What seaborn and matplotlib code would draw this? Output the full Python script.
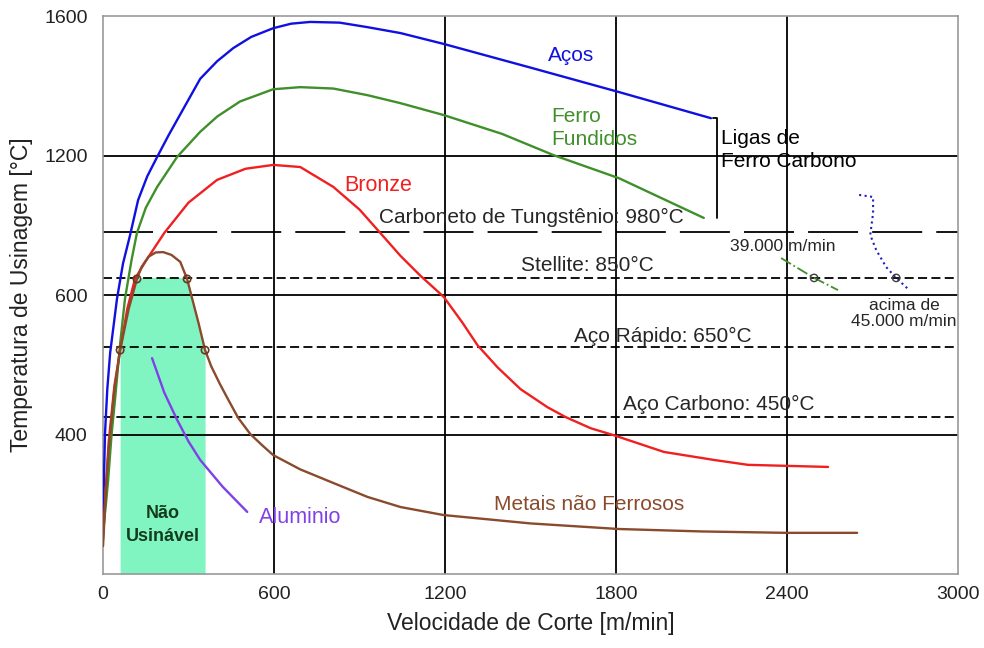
import matplotlib
matplotlib.use("Agg")
import matplotlib.pyplot as plt
import seaborn as sns

# curves: cutting speed [m/min] vs temperature [C]
acos_v = [0, 4, 7, 15, 25, 49, 70, 95, 123, 155, 190, 230, 271, 341, 400, 457, 520, 597, 660, 727, 830, 928,
          1044, 1195, 1500, 1810, 2133]
acos_t = [150, 300, 404, 530, 634, 789, 890, 972, 1072, 1140, 1196, 1258, 1318, 1420, 1470, 1508, 1540, 1565,
          1578, 1583, 1581, 1568, 1551, 1520, 1452, 1382, 1307]

ferro_v = [0, 10, 18, 30, 42, 60, 77, 100, 119, 150, 190, 260, 341, 401, 481, 597, 692, 808, 928, 1044,
           1195, 1400, 1581, 1810, 2108]
ferro_t = [120, 200, 270, 400, 499, 660, 789, 900, 978, 1050, 1110, 1196, 1268, 1312, 1355, 1390, 1396, 1392,
           1373, 1350, 1316, 1262, 1201, 1135, 1021]

bronze_v = [0, 10, 20, 40, 60, 85, 112, 148, 215, 300, 400, 500, 597, 692, 808, 900, 976, 1044, 1114,
            1195, 1260, 1314, 1385, 1465, 1560, 1623, 1711, 1792, 1968, 2144, 2263, 2544]
bronze_t = [100, 250, 380, 540, 642, 760, 846, 895, 978, 1065, 1130, 1162, 1173, 1167, 1110, 1045, 975,
            912, 855, 795, 722, 656, 592, 530, 478, 450, 418, 398, 350, 327, 313, 307]

naofe_v = [0, 10, 20, 40, 60, 90, 119, 135, 160, 185, 211, 240, 271, 295, 313, 335, 358, 380, 410, 436, 474,
           517, 560, 597, 692, 808, 928, 1044, 1195, 1500, 1810, 2100, 2400, 2646]
naofe_t = [80, 240, 360, 530, 642, 760, 846, 880, 910, 922, 923, 915, 895, 846, 789, 720, 642, 595, 545, 505,
           448, 401, 368, 341, 300, 261, 221, 192, 169, 145, 129, 122, 118, 118]

alu_v = [172, 215, 260, 300, 341, 420, 506]
alu_t = [619, 520, 442, 380, 327, 250, 178]

# unmachinable band and intersection markers
band_v = [60, 90, 119, 135, 160, 185, 211, 240, 271, 295, 313, 335, 358]
band_t = [642, 760, 846, 850, 850, 850, 850, 850, 850, 846, 789, 720, 642]
mark_v = [60, 119, 295, 358]
mark_t = [642, 846, 846, 642]

# tool limits
lim_t = [980, 850, 650, 450]
lim_lbl = ["Carboneto de Tungstênio: 980°C", "Stellite: 850°C", "Aço Rápido: 650°C", "Aço Carbono: 450°C"]

# extra high-speed points
v39_v = [2379, 2495, 2579]
v39_t = [906, 849, 814]
v45_v = [2653, 2702, 2702, 2692, 2713, 2748, 2783, 2829]
v45_t = [1087, 1081, 1035, 972, 929, 880, 849, 814]

x_ticks = [0, 600, 1200, 1800, 2400, 3000]
y_ticks = [400, 800, 1200, 1600]
y_tick_lbl = ["400", "600", "1200", "1600"]

sns.set_style("white")
plt.rcParams['font.family'] = ['Liberation Sans', 'DejaVu Sans']

fig = plt.figure(figsize=(9.84, 6.48), dpi=100)
ax = fig.add_axes([0.1047, 0.1142, 0.8689, 0.8611])

# green "Não Usinável" band
ax.fill_between(band_v, 0, band_t, color="#80f5c2", lw=0, zorder=1)

# grid
for g in [600, 1200, 1800, 2400]:
    ax.axvline(g, color="black", lw=1.3, zorder=2)
for g in [400, 800, 1200]:
    ax.axhline(g, color="black", lw=1.3, zorder=2)

# limit lines
ax.axhline(lim_t[0], color="black", lw=1.3, ls=(0, (27.7, 7.8)), zorder=2)
for t in lim_t[1:]:
    ax.axhline(t, color="black", lw=1.3, ls=(0, (5, 2.4)), zorder=2)

lw = 1.7
sns.lineplot(x=acos_v, y=acos_t, sort=False, estimator=None, color="#1010e0", lw=lw, ax=ax, zorder=3)
sns.lineplot(x=ferro_v, y=ferro_t, sort=False, estimator=None, color="#3f8f2a", lw=lw, ax=ax, zorder=3)
sns.lineplot(x=bronze_v, y=bronze_t, sort=False, estimator=None, color="#f02020", lw=lw, ax=ax, zorder=3)
sns.lineplot(x=naofe_v, y=naofe_t, sort=False, estimator=None, color="#8a4a2c", lw=lw, ax=ax, zorder=4)
sns.lineplot(x=alu_v, y=alu_t, sort=False, estimator=None, color="#8040e8", lw=lw, ax=ax, zorder=3)
sns.lineplot(x=v39_v, y=v39_t, sort=False, estimator=None, color="#3f8f2a", lw=1.3, ls="-.", ax=ax, zorder=3)
sns.lineplot(x=v45_v, y=v45_t, sort=False, estimator=None, color="#2020c0", lw=1.5, ls=":", ax=ax, zorder=3)

ax.scatter(mark_v, mark_t, s=28, facecolors="none", edgecolors="#6a3a20", lw=1.2, zorder=5)
ax.scatter([v39_v[1], v45_v[6]], [v39_t[1], v45_t[6]], s=28, facecolors="none",
           edgecolors="#404040", lw=1.0, zorder=5)

# bracket for iron-carbon alloys
ax.plot([2140, 2154, 2154], [1307, 1307, 1021], color="black", lw=1.3, zorder=3)

fs = 15
ax.text(1641, 1488, "Aços", color="#1010e0", fontsize=fs, ha="center", va="center")
ax.text(1571, 1279, "Ferro\nFundidos", color="#3f8f2a", fontsize=fs, ha="left", va="center", linespacing=1.3)
ax.text(966, 1115, "Bronze", color="#f02020", fontsize=fs + 0.5, ha="center", va="center")
ax.text(1704, 198, "Metais não Ferrosos", color="#8a4a2c", fontsize=fs, ha="center", va="center")
ax.text(692, 161, "Aluminio", color="#8040e8", fontsize=fs + 0.5, ha="center", va="center")
ax.text(211, 140, "Não\nUsinável", color="#143c1c", fontsize=13, fontweight="bold",
        ha="center", va="center", linespacing=1.45)
ax.text(2168, 1216, "Ligas de\nFerro Carbono", color="black", fontsize=fs, ha="left", va="center",
        linespacing=1.3)
ax.text(1504, 1021, lim_lbl[0], fontsize=fs, ha="center", va="center")
ax.text(1701, 886, lim_lbl[1], fontsize=fs, ha="center", va="center")
ax.text(1964, 682, lim_lbl[2], fontsize=fs, ha="center", va="center")
ax.text(2161, 485, lim_lbl[3], fontsize=fs, ha="center", va="center")
ax.text(2386, 938, "39.000 m/min", fontsize=12.5, ha="center", va="center")
ax.text(2811, 746, "acima de\n45.000 m/min", fontsize=12.5, ha="center", va="center", linespacing=1.1)

ax.set_xlim(0, 3000)
ax.set_ylim(0, 1600)
ax.set_xticks(x_ticks)
ax.set_yticks(y_ticks)
ax.set_yticklabels(y_tick_lbl)
ax.tick_params(axis="both", length=0, labelsize=14, labelcolor="#222222")
ax.tick_params(axis="x", pad=9)
ax.tick_params(axis="y", pad=11)
ax.set_xlabel("Velocidade de Corte [m/min]", fontsize=16.5, color="#222222", labelpad=6)
ax.set_ylabel("Temperatura de Usinagem [°C]", fontsize=16.5, color="#222222", labelpad=8)
for s in ax.spines.values():
    s.set_color("#999999")
    s.set_linewidth(1.2)

fig.savefig("out.png", dpi=100)
